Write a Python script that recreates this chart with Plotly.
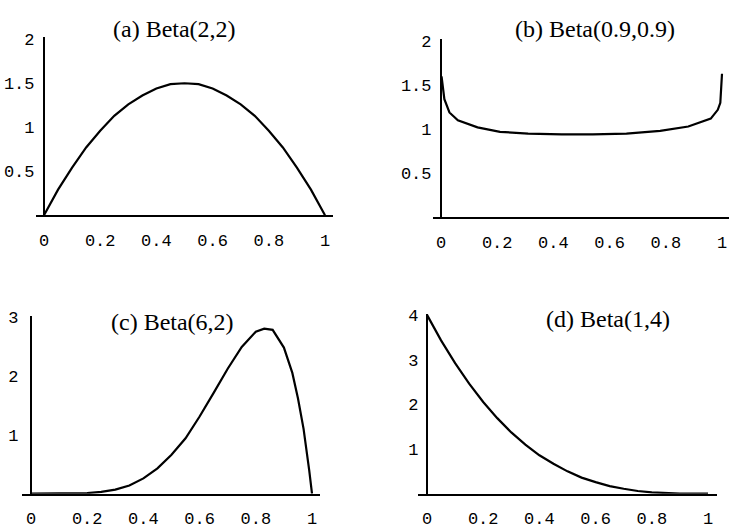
import plotly.graph_objects as go

# ---------------- data ----------------
x_a = [0, 0.05, 0.1, 0.15, 0.2, 0.25, 0.3, 0.35, 0.4, 0.45, 0.5,
       0.55, 0.6, 0.65, 0.7, 0.75, 0.8, 0.85, 0.9, 0.95, 1.0]
y_a = [0, 0.29, 0.54, 0.77, 0.96, 1.13, 1.26, 1.36, 1.44, 1.49, 1.5,
       1.49, 1.44, 1.36, 1.26, 1.13, 0.96, 0.77, 0.54, 0.29, 0]

x_b = [0.002, 0.005, 0.012, 0.03, 0.06, 0.13, 0.21, 0.31, 0.43, 0.54,
       0.66, 0.78, 0.88, 0.96, 0.985, 0.994, 1.0]
y_b = [1.6, 1.5, 1.34, 1.19, 1.10, 1.02, 0.97, 0.95, 0.94, 0.94,
       0.95, 0.98, 1.03, 1.12, 1.22, 1.30, 1.63]

x_c = [0, 0.2, 0.25, 0.3, 0.35, 0.4, 0.45, 0.5, 0.55, 0.6, 0.65, 0.7,
       0.75, 0.8, 0.83, 0.86, 0.9, 0.93, 0.95, 0.97, 0.99, 1.0]
y_c = [0, 0.01, 0.03, 0.07, 0.14, 0.26, 0.43, 0.66, 0.94, 1.31, 1.71, 2.12,
       2.49, 2.75, 2.8, 2.78, 2.48, 2.05, 1.62, 1.1, 0.4, 0]

x_d = [0, 0.05, 0.1, 0.15, 0.2, 0.25, 0.3, 0.35, 0.4, 0.45, 0.5,
       0.55, 0.6, 0.65, 0.7, 0.75, 0.8, 0.85, 0.9, 1.0]
y_d = [4.0, 3.43, 2.92, 2.46, 2.05, 1.69, 1.37, 1.10, 0.86, 0.67, 0.50,
       0.36, 0.26, 0.17, 0.11, 0.06, 0.03, 0.01, 0.0, 0.0]

titles = ["(a) Beta(2,2)", "(b) Beta(0.9,0.9)", "(c) Beta(6,2)", "(d) Beta(1,4)"]

x_ticks = [0, 0.2, 0.4, 0.6, 0.8, 1]
x_tick_text = ["0", "0.2", "0.4", "0.6", "0.8", "1"]
y_ticks_ab = [0.5, 1, 1.5, 2]
y_tick_text_ab = ["0.5", "1", "1.5", "2"]
y_ticks_c = [1, 2, 3]
y_tick_text_c = ["1", "2", "3"]
y_ticks_d = [1, 2, 3, 4]
y_tick_text_d = ["1", "2", "3", "4"]

# ---------------- layout geometry (pixels) ----------------
W, H = 729, 529
panels = [
    dict(l=36, r=333, x0=44, x1=325, yb=213, ppu=90.0, ymax=2.02, ys=5, xs=8,
         yt=y_ticks_ab, ytt=y_tick_text_ab, title=(174, 22)),
    dict(l=433, r=729, x0=441, x1=722, yb=215, ppu=90.0, ymax=2.02, ys=5, xs=8,
         yt=y_ticks_ab, ytt=y_tick_text_ab, title=(595, 22)),
    dict(l=22, r=320, x0=31, x1=312, yb=498, ppu=60.3, ymax=3.02, ys=8, xs=8,
         yt=y_ticks_c, ytt=y_tick_text_c, title=(172, 322)),
    dict(l=418, r=717, x0=427, x1=708, yb=498, ppu=45.75, ymax=4.02, ys=4, xs=8,
         yt=y_ticks_d, ytt=y_tick_text_d, title=(608, 319)),
]
series = [(x_a, y_a), (x_b, y_b), (x_c, y_c), (x_d, y_d)]

tick_font = dict(family="Liberation Mono, Courier New, monospace", size=17, color="black")
title_font = dict(family="Liberation Serif, Times New Roman, serif", size=24, color="black")

fig = go.Figure()
layout = dict(width=W, height=H, margin=dict(l=0, r=0, t=0, b=0),
              paper_bgcolor="white", plot_bgcolor="white", showlegend=False)
annotations = []

for i, (p, (xs, ys)) in enumerate(zip(panels, series), start=1):
    sfx = "" if i == 1 else str(i)
    fig.add_trace(go.Scatter(x=xs, y=ys, mode="lines",
                             line=dict(color="black", width=2.2),
                             xaxis="x" + sfx, yaxis="y" + sfx,
                             hoverinfo="skip"))
    ppux = (p["x1"] - p["x0"])
    xr = [(p["l"] - p["x0"]) / ppux, (p["r"] - p["x0"]) / ppux]
    ytop = p["yb"] - p["ymax"] * p["ppu"]
    layout["xaxis" + sfx] = dict(
        domain=[p["l"] / W, p["r"] / W], range=xr, anchor="y" + sfx,
        showline=True, linecolor="black", linewidth=2.2, showgrid=False,
        zeroline=False, ticks="", tickvals=x_ticks, ticktext=x_tick_text,
        tickfont=tick_font, ticklabelstandoff=p["xs"], fixedrange=True)
    layout["yaxis" + sfx] = dict(
        domain=[1 - p["yb"] / H, 1 - ytop / H], range=[0, p["ymax"]],
        anchor="free", position=p["x0"] / W,
        showline=True, linecolor="black", linewidth=2.2, showgrid=False,
        zeroline=False, ticks="", tickvals=p["yt"], ticktext=p["ytt"],
        tickfont=tick_font, ticklabelstandoff=p["ys"], fixedrange=True)
    annotations.append(dict(text=titles[i - 1], xref="paper", yref="paper",
                            x=p["title"][0] / W, y=1 - p["title"][1] / H,
                            xanchor="center", yanchor="middle",
                            showarrow=False, font=title_font))

layout["annotations"] = annotations
fig.update_layout(**layout)
fig.write_html("out.html", config={"displayModeBar": False},
               post_script="document.body.style.margin='0';document.body.style.overflow='hidden';")
